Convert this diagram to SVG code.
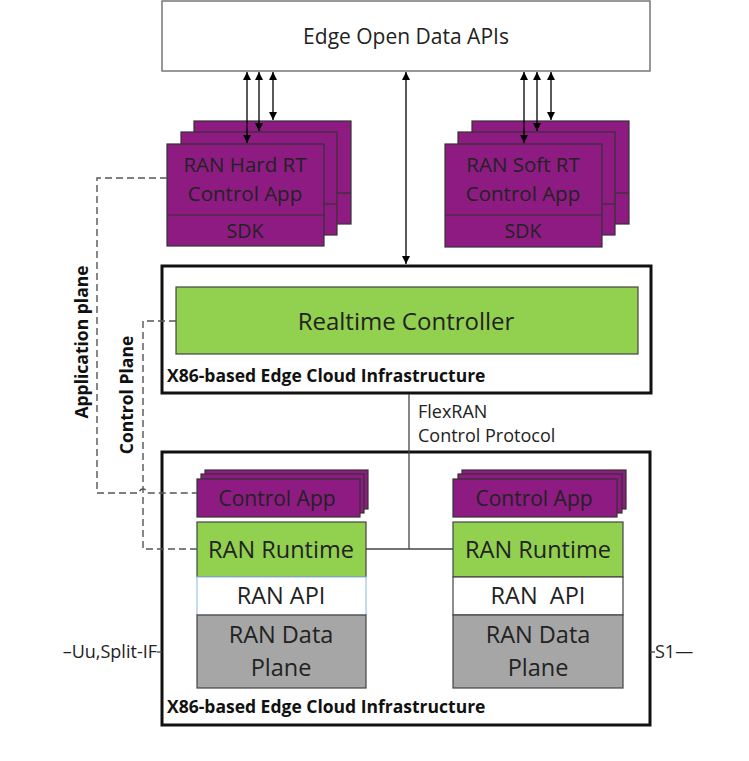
<svg xmlns="http://www.w3.org/2000/svg" width="749" height="761" viewBox="0 0 749 761">
<defs>
<marker id="ah" viewBox="0 0 10 10" refX="10" refY="5" markerWidth="8" markerHeight="10" markerUnits="userSpaceOnUse" orient="auto-start-reverse">
<path d="M0,0 L10,5 L0,10 z" fill="#000"/>
</marker>
<style>
text{font-family:"Open Sans","Noto Sans","Liberation Sans",sans-serif;fill:#222}
.t{font-size:19px;text-anchor:middle}
.s{font-size:18px}
.b{font-size:17.5px;font-weight:bold;fill:#111}
.pur{fill:#8e1b82;stroke:#333;stroke-width:1.2}
.grn{fill:#92d050;stroke:#444;stroke-width:1.2}
.gry{fill:#a6a6a6;stroke:#444;stroke-width:1.2}
.infra{fill:#fff;stroke:#111;stroke-width:3}
.arr{stroke:#000;stroke-width:1.3;fill:none;marker-start:url(#ah);marker-end:url(#ah)}
.ln{stroke:#444;stroke-width:1.3;fill:none}
.dash{stroke:#555;stroke-width:1.4;fill:none;stroke-dasharray:7,4}
</style>
</defs>

<g id="edge-open-data-apis">
<rect x="162" y="1" width="488" height="70" fill="#fff" stroke="#777" stroke-width="1.5"/>
<text class="t" x="406" y="44" style="font-size:21px">Edge Open Data APIs</text>
</g>

<g id="ran-hard-rt-app">
<rect class="pur" x="194" y="121" width="157" height="103"/>
<line x1="337" y1="193" x2="351" y2="193" stroke="#333" stroke-width="1.2"/>
<rect class="pur" x="181" y="132" width="156" height="103"/>
<line x1="324" y1="204" x2="337" y2="204" stroke="#333" stroke-width="1.2"/>
<rect class="pur" x="167" y="144" width="157" height="102"/>
<line x1="167" y1="215" x2="324" y2="215" stroke="#333" stroke-width="1.2"/>
<text class="t" x="245" y="172" style="font-size:20.5px">RAN Hard RT</text>
<text class="t" x="245" y="201" style="font-size:20.5px">Control App</text>
<text class="t" x="245" y="238" style="font-size:19.5px">SDK</text>
</g>

<g id="ran-soft-rt-app">
<rect class="pur" x="472" y="121" width="157" height="103"/>
<line x1="615" y1="193" x2="629" y2="193" stroke="#333" stroke-width="1.2"/>
<rect class="pur" x="458" y="132" width="157" height="103"/>
<line x1="602" y1="204" x2="615" y2="204" stroke="#333" stroke-width="1.2"/>
<rect class="pur" x="445" y="144" width="157" height="103"/>
<line x1="445" y1="215" x2="602" y2="215" stroke="#333" stroke-width="1.2"/>
<text class="t" x="523" y="172" style="font-size:20.5px">RAN Soft RT</text>
<text class="t" x="523" y="201" style="font-size:20.5px">Control App</text>
<text class="t" x="523" y="238" style="font-size:19.5px">SDK</text>
</g>

<g id="controller-infra">
<rect class="infra" x="162" y="266" width="489" height="127"/>
<rect class="grn" x="176" y="287" width="462" height="67"/>
<text class="t" x="406" y="330" style="font-size:24px">Realtime Controller</text>
<text class="b" x="167" y="382">X86-based Edge Cloud Infrastructure</text>
</g>

<g id="edge-infra">
<rect class="infra" x="162" y="452" width="488" height="273"/>
<text class="b" x="167" y="713">X86-based Edge Cloud Infrastructure</text>
</g>

<g id="left-ran">
<rect class="pur" x="205" y="470" width="163" height="39"/>
<rect class="pur" x="201" y="474" width="163" height="39"/>
<rect class="pur" x="197" y="479" width="163" height="38"/>
<text class="t" x="277" y="506" style="font-size:21px">Control App</text>
<rect class="grn" x="197" y="522" width="169" height="55"/>
<text class="t" x="281" y="558" style="font-size:23.5px">RAN Runtime</text>
<rect x="197" y="577" width="169" height="38" fill="#fff" stroke="#9dc3e6" stroke-width="1.2"/>
<text class="t" x="281" y="604" style="font-size:23.5px">RAN API</text>
<rect class="gry" x="197" y="615" width="169" height="73"/>
<text class="t" x="281" y="643" style="font-size:23.5px">RAN Data</text>
<text class="t" x="281" y="676" style="font-size:23.5px">Plane</text>
</g>

<g id="right-ran">
<rect class="pur" x="462" y="470" width="164" height="39"/>
<rect class="pur" x="458" y="474" width="164" height="39"/>
<rect class="pur" x="453" y="479" width="164" height="38"/>
<text class="t" x="534" y="506" style="font-size:21px">Control App</text>
<rect class="grn" x="453" y="522" width="170" height="55"/>
<text class="t" x="538" y="558" style="font-size:23.5px">RAN Runtime</text>
<rect x="453" y="577" width="170" height="38" fill="#fff" stroke="#444" stroke-width="1.2"/>
<text class="t" x="538" y="604" style="font-size:23.5px" xml:space="preserve">RAN  API</text>
<rect class="gry" x="453" y="615" width="170" height="73"/>
<text class="t" x="538" y="643" style="font-size:23.5px">RAN Data</text>
<text class="t" x="538" y="676" style="font-size:23.5px">Plane</text>
</g>

<g id="connectors">
<line class="arr" x1="247" y1="72" x2="247" y2="143"/>
<line class="arr" x1="259" y1="72" x2="259" y2="131"/>
<line class="arr" x1="273" y1="72" x2="273" y2="120"/>
<line class="arr" x1="524" y1="72" x2="524" y2="143"/>
<line class="arr" x1="537" y1="72" x2="537" y2="131"/>
<line class="arr" x1="551" y1="72" x2="551" y2="120"/>
<line class="arr" x1="406" y1="72" x2="406" y2="264"/>
<polyline class="ln" points="409,394 409,549"/>
<line class="ln" x1="366" y1="549" x2="453" y2="549"/>
<path class="dash" d="M167,178 H97 V493 H139 a4,4 0 0 1 8,0 H197"/>
<path class="dash" d="M176,321 H143 V549 H197"/>
<line class="ln" x1="157" y1="652" x2="162" y2="652"/>
<line class="ln" x1="650" y1="652" x2="655" y2="652"/>
</g>

<g id="labels">
<text class="s" x="418" y="418">FlexRAN</text>
<text class="s" x="418" y="442">Control Protocol</text>
<text class="s" x="157" y="658" text-anchor="end">–Uu,Split-IF</text>
<text class="s" x="655" y="658">S1—</text>
<text class="b" x="0" y="0" text-anchor="middle" transform="translate(88,342) rotate(-90)">Application plane</text>
<text class="b" x="0" y="0" text-anchor="middle" transform="translate(133,395) rotate(-90)">Control Plane</text>
</g>
</svg>
